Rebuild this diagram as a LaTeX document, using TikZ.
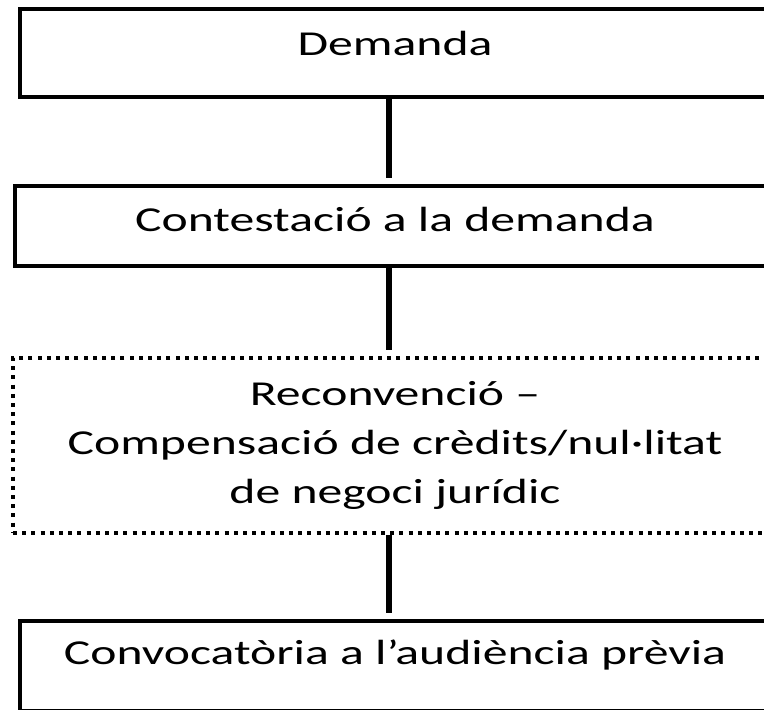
\documentclass[tikz,border=0pt]{standalone}
\usepackage{fontspec}
\setmainfont{Carlito}[FakeStretch=1.42]
\usepackage{tikz}
\usetikzlibrary{positioning}

\begin{document}
\begin{tikzpicture}[x=0.5pt,y=-0.5pt,
    box/.style={draw,line width=2.2pt,align=center,inner sep=0pt,
      font=\fontsize{17.5}{24.5}\selectfont},
    optbox/.style={box,line width=2pt,dash pattern=on 2pt off 2.6pt},
    link/.style={line width=3pt,shorten >=3pt}]
        \useasboundingbox (0,0) rectangle (764,709);
        \clip (0,0) rectangle (764,709);
        \node[box,minimum width=375pt,minimum height=44pt,text depth=10pt] (dem) at (395,53) {Demanda};
        \node[box,minimum width=380pt,minimum height=40pt,text depth=7pt] (cont) at (395,226) {Contestació a la demanda};
        \node[optbox,minimum width=382pt,minimum height=87.5pt] (rec) at (395,445.5) {Reconvenció --\\Compensació de crèdits/nul·litat\\de negoci jurídic};
        \node[box,minimum width=375pt,minimum height=45pt,text depth=14pt] (conv) at (395,666) {Convocatòria a l’audiència prèvia};
        \draw[link] ([xshift=-3pt]dem.south) -- ([xshift=-3pt]cont.north);
        \draw[link] ([xshift=-3pt]cont.south) -- ([xshift=-3pt]rec.north);
        \draw[link] ([xshift=-3pt]rec.south) -- ([xshift=-3pt]conv.north);
      \end{tikzpicture}
\end{document}
